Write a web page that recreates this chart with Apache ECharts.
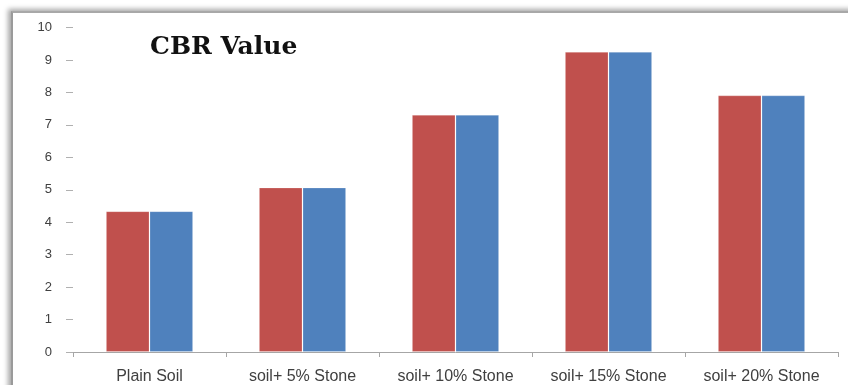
<!DOCTYPE html>
<html>
<head>
<meta charset="utf-8">
<title>CBR Value</title>
<script src="https://cdn.jsdelivr.net/npm/echarts@6/dist/echarts.min.js"></script>
<style>
  html, body { margin: 0; padding: 0; background: #fff; overflow: hidden; }
  #frame {
    position: absolute; left: 11px; top: 11px; width: 900px; height: 420px;
    border-left: 2px solid #9a9a9a; border-top: 2px solid #a8a8a8;
    box-shadow: -3px -2px 5px rgba(0,0,0,0.35);
  }
  #chart { position: absolute; left: 0; top: 0; width: 848px; height: 385px; }
</style>
</head>
<body>
<div id="frame"></div>
<div id="chart"></div>
<script>
// Mix designations along the x axis
const categories = ['Plain Soil', 'soil+ 5% Stone', 'soil+ 10% Stone', 'soil+ 15% Stone', 'soil+ 20% Stone'];
// CBR values (%) for the two test series
const seriesA = [4.34, 5.07, 7.31, 9.25, 7.91];
const seriesB = [4.34, 5.07, 7.31, 9.25, 7.91];
// Value axis range
const yMin = 0, yMax = 10, yStep = 1;

const chart = echarts.init(document.getElementById('chart'));

const labelColor = '#404040';

chart.setOption({
  animation: false,
  title: {
    text: 'CBR Value',
    left: 145, top: 30,
    textStyle: { fontFamily: 'DejaVu Serif', fontWeight: 'bold', fontSize: 25, color: '#111' }
  },
  grid: { left: 73, right: 10, top: 27.5, bottom: 31.5, containLabel: false },
  xAxis: {
    type: 'category',
    data: categories,
    axisLine: { show: true, lineStyle: { color: '#a6a6a6', width: 1 } },
    axisTick: { show: true, alignWithLabel: false, length: 5, lineStyle: { color: '#a6a6a6' } },
    axisLabel: { interval: 0, hideOverlap: false, color: labelColor, fontFamily: 'Liberation Sans', fontSize: 16, margin: 17 }
  },
  yAxis: {
    type: 'value',
    min: yMin, max: yMax, interval: yStep,
    splitLine: { show: false },
    axisLine: { show: false },
    axisTick: { show: true, inside: false, length: 7, lineStyle: { color: '#b0b0b0' } },
    axisLabel: { color: labelColor, fontFamily: 'Liberation Sans', fontSize: 13, margin: 21 }
  },
  series: [
    {
      type: 'bar', data: seriesA, barGap: '0%', barCategoryGap: '43%',
      itemStyle: { color: '#C0504D', borderColor: 'rgba(255,255,255,0.2)', borderWidth: 1 }
    },
    {
      type: 'bar', data: seriesB, barGap: '0%', barCategoryGap: '43%',
      itemStyle: { color: '#4F81BD', borderColor: 'rgba(255,255,255,0.2)', borderWidth: 1 }
    }
  ]
});
</script>
</body>
</html>
